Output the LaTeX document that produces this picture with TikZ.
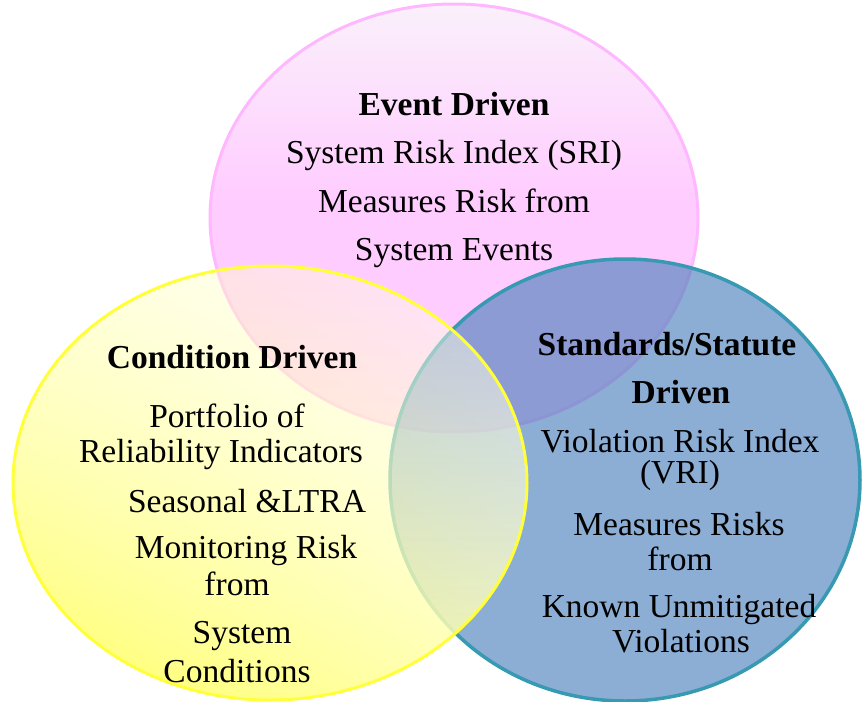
\documentclass[tikz,border=0pt]{standalone}
\usepackage{fontspec}
\setmainfont{Liberation Serif}
\usetikzlibrary{fadings}
\definecolor{pinkedge}{HTML}{FFB8FF}
\definecolor{pinktop}{HTML}{FAF0FB}
\definecolor{pinkbot}{HTML}{FFCCFF}
\definecolor{bluefill}{HTML}{4F81BD}
\definecolor{blueedge}{HTML}{3799B2}
\definecolor{yelpale}{HTML}{FFFFE6}
\definecolor{yelsat}{HTML}{FFFF70}
\definecolor{yeledge}{HTML}{FFFF3A}
\pgfdeclareverticalshading{pinkshade}{100bp}{color(0bp)=(pinkbot); color(52bp)=(pinkbot); color(75bp)=(pinktop); color(100bp)=(pinktop)}
\tikzfading[name=yfade, top color=transparent!60, bottom color=transparent!8]
\begin{document}
\begin{tikzpicture}[x=1pt,y=-1pt,
  txt/.style={inner sep=0pt, anchor=base, font=\fontsize{33.5}{40}\selectfont},
  btxt/.style={txt, font=\fontsize{33.5}{40}\selectfont\bfseries}]
\useasboundingbox (0,0) rectangle (863,702);
% pink circle
\shade[shading=pinkshade] (454,218) ellipse [x radius=244, y radius=214];
\draw[pinkedge, line width=3pt] (454,218) ellipse [x radius=244, y radius=214];
% blue circle
\fill[bluefill, fill opacity=0.65] (625,480) ellipse [x radius=235, y radius=221];
\draw[blueedge, line width=3.5pt] (625,480) ellipse [x radius=235, y radius=221];
% yellow circle
\shade[top color=yelpale, bottom color=yelsat, shading angle=-45, path fading=yfade] (270,483) ellipse [x radius=257, y radius=217];
\draw[yeledge, line width=3pt] (270,483) ellipse [x radius=257, y radius=217];
% texts
\node[btxt] (e1) at (454,115) {Event Driven};
\node[txt] (e2) at (454,163) {System Risk Index (SRI)};
\node[txt] (e3) at (454,212) {Measures Risk from};
\node[txt] (e4) at (454,260) {System Events};
\node[btxt] (c1) at (232,368) {Condition Driven};
\node[txt] (c2) at (227,427) {Portfolio of};
\node[txt] (c3) at (221,462) {Reliability Indicators};
\node[txt] (c4) at (247,512) {Seasonal \&LTRA};
\node[txt] (c5) at (246,558) {Monitoring Risk};
\node[txt] (c6) at (237,595) {from};
\node[txt] (c7) at (242,643) {System};
\node[txt] (c8) at (237,682) {Conditions};
\node[btxt] (s1) at (667,355) {Standards/Statute};
\node[btxt] (s2) at (681,403) {Driven};
\node[txt] (s3) at (680,452) {Violation Risk Index};
\node[txt] (s4) at (680,483) {(VRI)};
\node[txt] (s5) at (679,535) {Measures Risks};
\node[txt] (s6) at (680,570) {from};
\node[txt] (s7) at (679,617) {Known Unmitigated};
\node[txt] (s8) at (681,652) {Violations};
\end{tikzpicture}
\end{document}
